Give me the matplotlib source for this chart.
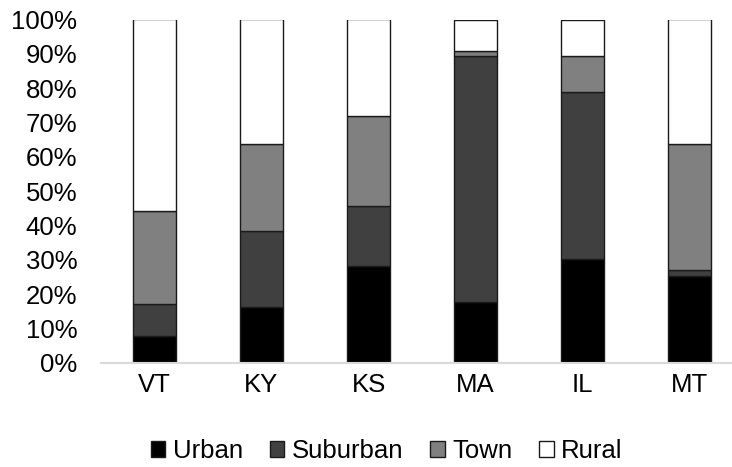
import matplotlib
matplotlib.use("Agg")
import matplotlib.pyplot as plt
import numpy as np

plt.rcParams['font.family'] = ['Liberation Sans', 'DejaVu Sans']

states = ["VT", "KY", "KS", "MA", "IL", "MT"]
urban = [7.9, 16.3, 28.3, 17.9, 30.2, 25.4]
suburban = [9.2, 22.1, 17.3, 71.5, 48.8, 1.7]
town = [27.1, 25.4, 26.4, 1.5, 10.3, 36.7]
rural = [55.8, 36.2, 28.0, 9.1, 10.7, 36.2]

series = [("Urban", urban, "#000000"),
          ("Suburban", suburban, "#404040"),
          ("Town", town, "#808080"),
          ("Rural", rural, "#ffffff")]

fs = 18.5

fig = plt.figure(figsize=(7.32, 4.67), dpi=100)
ax = fig.add_axes([101 / 732, 1 - 363 / 467, 642 / 732, 343.5 / 467])

x = np.arange(len(states))
bottom = np.zeros(len(states))
handles = []
for name, vals, color in series:
    vals = np.array(vals) / 100.0
    b = ax.bar(x, vals, bottom=bottom, width=0.41, color=color,
               edgecolor="#1a1a1a", linewidth=1.0, label=name, zorder=3)
    handles.append(b)
    bottom += vals

ax.set_xlim(-0.5, len(states) - 0.5)
ax.set_ylim(0, 1.0)
ax.set_yticks(np.arange(0, 1.01, 0.1))
ax.set_yticklabels([f"{int(round(v * 100))}%" for v in np.arange(0, 1.01, 0.1)])
ax.set_xticks(x)
ax.set_xticklabels(states)
ax.tick_params(axis="both", length=0, labelsize=fs, colors="#000000")
ax.tick_params(axis="y", pad=17)
ax.tick_params(axis="x", pad=7)
for side in ["left", "right", "top"]:
    ax.spines[side].set_visible(False)
ax.spines["bottom"].set_color("#d9d9d9")
ax.spines["bottom"].set_linewidth(1.5)
ax.spines["bottom"].set_zorder(4)

fig.legend(handles=handles, labels=[s[0] for s in series], loc="center",
           bbox_to_anchor=(387 / 732, 1 - 451 / 467), ncol=4, frameon=False,
           fontsize=fs, handlelength=0.55, handleheight=0.55, handletextpad=0.3,
           columnspacing=1.05)

fig.savefig("out.png", dpi=100)
